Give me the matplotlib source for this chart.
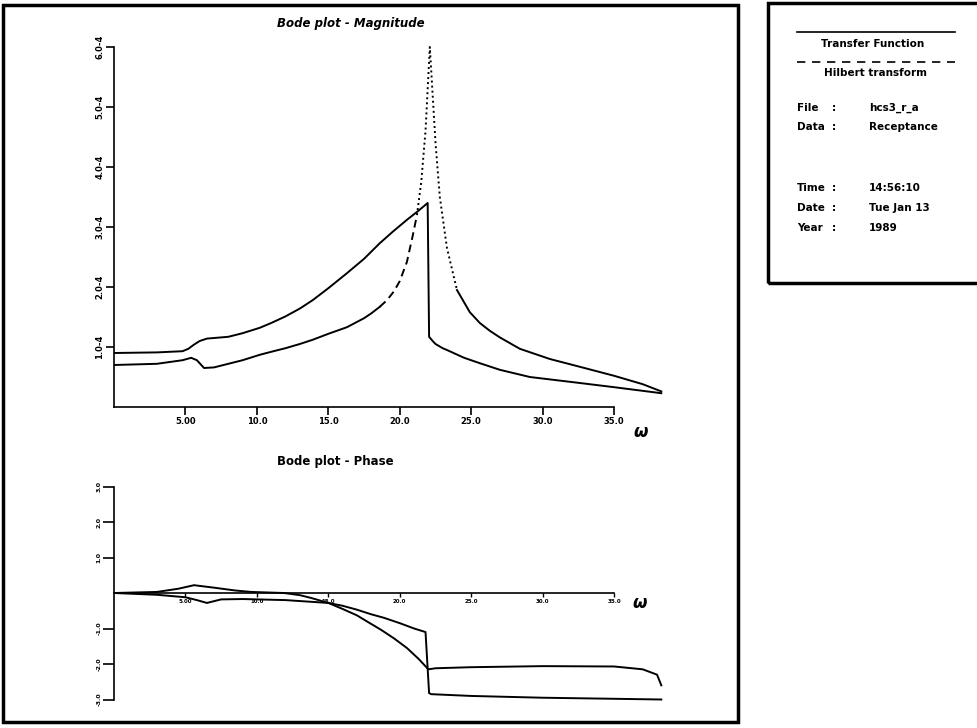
import numpy as np
import matplotlib
matplotlib.use("Agg")
import matplotlib.pyplot as plt
from matplotlib.patches import Rectangle
from matplotlib.lines import Line2D

# frequency axis (omega) and magnitudes (units of 1e-4)
tf_w = [0, 3, 4.8, 5.4, 5.8, 6.3, 7, 8, 9, 10.2, 11, 12, 13, 13.9, 15, 16.3,
        17.5, 18.0, 18.6, 19.1, 19.6, 20.0, 20.5, 20.9, 21.2, 21.5, 21.8,
        22.1, 22.3, 22.5, 22.8, 23.3, 24.0, 24.9, 25.6, 26.3, 27.0, 28.4,
        30.5, 32.6, 35.0, 37.0, 38.3]
tf_mag = [0.70, 0.72, 0.78, 0.82, 0.78, 0.65, 0.66, 0.72, 0.78, 0.87, 0.92,
          0.98, 1.05, 1.12, 1.22, 1.33, 1.48, 1.56, 1.67, 1.78, 1.93, 2.10,
          2.42, 2.85, 3.20, 3.75, 4.60, 6.00, 5.20, 4.40, 3.50, 2.65, 1.95,
          1.58, 1.40, 1.27, 1.16, 0.97, 0.80, 0.67, 0.52, 0.38, 0.26]

ht_w = [0, 3, 4.8, 5.2, 5.6, 6.0, 6.5, 7, 8, 9, 10.2, 11, 12, 13, 13.9, 15,
        16.3, 17.5, 18.6, 19.5, 20.5, 21.3, 21.95, 22.05, 22.3, 22.5, 23.0,
        23.3, 24.5, 25.6, 27, 29.1, 32.6, 35, 38.3]
ht_mag = [0.90, 0.91, 0.93, 0.97, 1.04, 1.10, 1.14, 1.15, 1.17, 1.23, 1.32,
          1.40, 1.51, 1.64, 1.78, 1.98, 2.23, 2.47, 2.73, 2.92, 3.12, 3.27,
          3.40, 1.17, 1.10, 1.05, 0.98, 0.95, 0.82, 0.73, 0.62, 0.50, 0.40,
          0.33, 0.23]

# phase (rad)
tf_pw = [0, 3, 5, 5.8, 6.5, 7.5, 9, 12, 15, 16, 17, 18, 18.9, 20, 21, 21.8,
         22.05, 22.2, 25, 30, 35, 38.3]
tf_phase = [0, -0.05, -0.12, -0.20, -0.28, -0.18, -0.17, -0.20, -0.28, -0.36,
            -0.47, -0.60, -0.70, -0.85, -1.00, -1.10, -2.82, -2.85, -2.90,
            -2.95, -2.98, -3.00]

ht_pw = [0, 3, 4.5, 5.6, 7, 8.5, 9.6, 11.9, 13, 13.8, 15, 16, 17, 17.7, 18.7,
         19.6, 20.5, 21.3, 22, 22.5, 25, 30, 35, 37, 38, 38.3]
ht_phase = [0, 0.03, 0.12, 0.22, 0.15, 0.07, 0.03, 0.0, -0.06, -0.14, -0.28,
            -0.45, -0.63, -0.80, -1.04, -1.28, -1.55, -1.85, -2.15, -2.12,
            -2.09, -2.06, -2.07, -2.15, -2.30, -2.60]

mag_ticks = [1, 2, 3, 4, 5, 6]
mag_labels = ["1.0-4", "2.0-4", "3.0-4", "4.0-4", "5.0-4", "6.0-4"]
w_ticks = [5, 10, 15, 20, 25, 30, 35]
w_labels = ["5.00", "10.0", "15.0", "20.0", "25.0", "30.0", "35.0"]
ph_ticks = [-3, -2, -1, 1, 2, 3]
ph_labels = ["-3.0", "-2.0", "-1.0", "1.0", "2.0", "3.0"]

info_rows = [("File", "hcs3_r_a"), ("Data", "Receptance"),
             ("Time", "14:56:10"), ("Date", "Tue Jan 13"), ("Year", "1989")]

W, H = 977, 728
plt.rcParams["font.family"] = ["DejaVu Sans"]
plt.rcParams["font.weight"] = "bold"
fig = plt.figure(figsize=(W / 100, H / 100), dpi=100)


def fx(x):
    return x / W


def fy(y):
    return 1 - y / H


lw = 1.4
x0, xscale = 114, 14.29

# ---- magnitude
ax = fig.add_axes([fx(x0), fy(407), 38.6 * xscale / W, 6.3 * 60 / H])
ax.set_xlim(0, 38.6)
ax.set_ylim(0, 6.3)
w = np.array(tf_w)
m = np.array(tf_mag)
solid1 = w <= 18.6
dash = (w >= 18.6) & (w <= 21.2)
dot = (w >= 21.2) & (w <= 24.0)
solid2 = w >= 24.0
ax.plot(w[solid1], m[solid1], color="black", lw=lw)
ax.plot(w[dash], m[dash], color="black", lw=lw, linestyle=(0, (4, 2.5)))
ax.plot(w[dot], m[dot], color="black", lw=lw, linestyle=(0, (1, 1.6)))
ax.plot(w[solid2], m[solid2], color="black", lw=lw)
ax.plot(ht_w, ht_mag, color="black", lw=lw)

for s in ["top", "right"]:
    ax.spines[s].set_visible(False)
ax.spines["left"].set_bounds(0, 6)
ax.spines["bottom"].set_bounds(0, 35)
for s in ["left", "bottom"]:
    ax.spines[s].set_linewidth(1.2)
ax.set_xticks(w_ticks)
ax.set_xticklabels(w_labels, fontsize=6, fontweight="bold")
ax.set_yticks(mag_ticks)
ax.set_yticklabels(mag_labels, fontsize=6, fontweight="bold", rotation=90,
                   va="center")
ax.tick_params(direction="out", length=6, width=1.2, pad=1)
ax.patch.set_visible(False)

# ---- phase
ax2 = fig.add_axes([fx(x0), fy(593 + 3.3 * 35.5), 38.6 * xscale / W,
                    6.6 * 35.5 / H])
ax2.set_xlim(0, 38.6)
ax2.set_ylim(-3.3, 3.3)
ax2.plot(tf_pw, tf_phase, color="black", lw=lw)
ax2.plot(ht_pw, ht_phase, color="black", lw=lw)
for s in ["top", "right"]:
    ax2.spines[s].set_visible(False)
ax2.spines["bottom"].set_position(("data", 0))
ax2.spines["bottom"].set_bounds(0, 35)
ax2.spines["left"].set_bounds(-3, 3)
for s in ["left", "bottom"]:
    ax2.spines[s].set_linewidth(1.2)
ax2.set_xticks(w_ticks)
ax2.set_xticklabels(w_labels, fontsize=4, fontweight="bold")
ax2.set_yticks(ph_ticks)
ax2.set_yticklabels(ph_labels, fontsize=4.5, fontweight="bold", rotation=90,
                    va="center")
ax2.tick_params(axis="x", direction="out", length=3, width=1.0, pad=1)
ax2.tick_params(axis="y", direction="out", length=8, width=1.2, pad=1)
ax2.patch.set_visible(False)

# ---- titles and omega labels
fig.text(fx(277), fy(23), "Bode plot - Magnitude", fontsize=8.5,
         fontstyle="italic", fontweight="bold", va="center", ha="left")
fig.text(fx(277), fy(461), "Bode plot - Phase", fontsize=8.5,
         fontweight="bold", va="center", ha="left")
fig.text(fx(641), fy(432), "\u03c9", fontsize=12, fontstyle="italic",
         va="center", ha="center")
fig.text(fx(640), fy(603), "\u03c9", fontsize=12, fontstyle="italic",
         va="center", ha="center")

# ---- frames
fig.patches.append(Rectangle((fx(3), fy(722)), fx(738) - fx(3),
                             fy(5) - fy(722), transform=fig.transFigure,
                             fill=False, lw=2.5, ec="black"))
fig.patches.append(Rectangle((fx(768), fy(283)), fx(1000) - fx(768),
                             fy(3) - fy(283), transform=fig.transFigure,
                             fill=False, lw=2.5, ec="black"))

# ---- info box
fig.lines.append(Line2D([fx(797), fx(955)], [fy(32), fy(32)],
                        transform=fig.transFigure, color="black", lw=1.2))
fig.lines.append(Line2D([fx(797), fx(955)], [fy(62), fy(62)],
                        transform=fig.transFigure, color="black", lw=1.2,
                        linestyle=(0, (5, 4))))
fig.text(fx(873), fy(44), "Transfer Function", fontsize=7.5,
         fontweight="bold", ha="center", va="center")
fig.text(fx(876), fy(73), "Hilbert transform", fontsize=7.5,
         fontweight="bold", ha="center", va="center")
row_y = [108, 127, 188, 208, 228]
for (k, v), yy in zip(info_rows, row_y):
    fig.text(fx(797), fy(yy), k, fontsize=7.5, fontweight="bold", va="center")
    fig.text(fx(832), fy(yy), ":", fontsize=7.5, fontweight="bold",
             va="center")
    fig.text(fx(869), fy(yy), v, fontsize=7.5, fontweight="bold", va="center")

fig.savefig("out.png", dpi=100)
